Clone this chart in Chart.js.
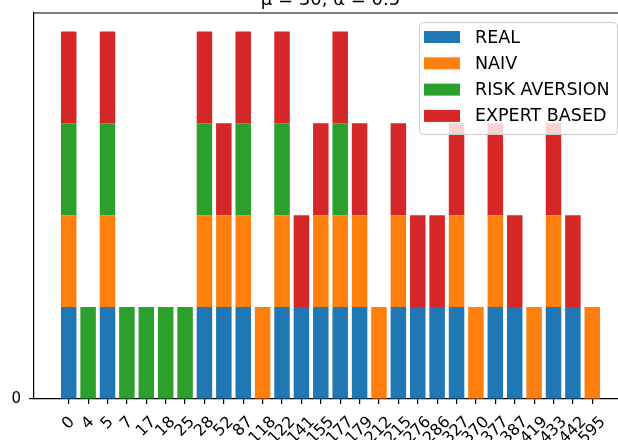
<!DOCTYPE html>
<html>
<head>
<meta charset="utf-8">
<script src="https://cdn.jsdelivr.net/npm/chart.js@4.4.1/dist/chart.umd.min.js"></script>
<style>
  body { margin: 0; background: #fff; }
  #wrap { width: 618px; height: 440px; overflow: hidden; position: relative; }
  canvas { position: absolute; left: 0; top: 0; }
</style>
</head>
<body>
<div id="wrap"><canvas id="myChartBar" width="632" height="440"></canvas></div>
<script>
const categories = ['0', '4', '5', '7', '17', '18', '25', '28', '52', '87', '118', '122', '141', '155',
  '177', '179', '212', '215', '276', '286', '327', '370', '377', '387', '419', '433', '442', '595'];
const real   = [1, 0, 1, 0, 0, 0, 0, 1, 1, 1, 0, 1, 1, 1, 1, 1, 0, 1, 1, 1, 1, 0, 1, 1, 0, 1, 1, 0];
const naiv   = [1, 0, 1, 0, 0, 0, 0, 1, 1, 1, 1, 1, 0, 1, 1, 1, 1, 1, 0, 0, 1, 1, 1, 0, 1, 1, 0, 1];
const risk   = [1, 1, 1, 1, 1, 1, 1, 1, 0, 1, 0, 1, 0, 0, 1, 0, 0, 0, 0, 0, 0, 0, 0, 0, 0, 0, 0, 0];
const expert = [1, 0, 1, 0, 0, 0, 0, 1, 1, 1, 0, 1, 1, 1, 1, 1, 0, 1, 1, 1, 1, 0, 1, 1, 0, 1, 1, 0];
const yTicks = [0];
const title = 'μ = 30, α = 0.5';

const FONT = '"DejaVu Sans", sans-serif';

const toPoints = arr => arr.map((v, i) => ({ x: i, y: v }));

// frame, title, rotated x labels and legend box, drawn matplotlib-style
const mplExtras = {
  id: 'mplExtras',
  afterDraw(chart) {
    const ctx = chart.ctx;
    const area = chart.chartArea;
    const xs = chart.scales.x;
    ctx.save();

    // top + right spine
    ctx.strokeStyle = '#000';
    ctx.lineWidth = 1.2;
    ctx.beginPath();
    ctx.moveTo(area.left, area.top);
    ctx.lineTo(area.right, area.top);
    ctx.lineTo(area.right, area.bottom);
    ctx.stroke();

    // title (mostly cut off by the top edge)
    ctx.fillStyle = '#000';
    ctx.font = '18px ' + FONT;
    ctx.textAlign = 'center';
    ctx.textBaseline = 'alphabetic';
    ctx.fillText(title, (area.left + area.right) / 2, 5);

    // x tick labels, rotated 45deg, centred under tick
    ctx.font = '16px ' + FONT;
    ctx.textBaseline = 'middle';
    categories.forEach((t, i) => {
      const x = xs.getPixelForValue(i);
      const w = ctx.measureText(t).width;
      const h = 16 * 1.17;
      const half = (w + h) * Math.SQRT1_2 / 2;
      ctx.save();
      ctx.translate(x, area.bottom + 14 + half);
      ctx.rotate(-Math.PI / 4);
      ctx.fillText(t, 0, 0);
      ctx.restore();
    });

    // legend
    const bx = 419, by = 22, bw = 198, bh = 112;
    ctx.fillStyle = 'rgba(255,255,255,0.8)';
    ctx.strokeStyle = '#cccccc';
    ctx.lineWidth = 1;
    ctx.beginPath();
    ctx.roundRect(bx + 0.5, by + 0.5, bw, bh, 4);
    ctx.fill();
    ctx.stroke();
    ctx.font = '17.5px ' + FONT;
    ctx.textAlign = 'left';
    ctx.textBaseline = 'middle';
    chart.data.datasets.forEach((ds, i) => {
      const cy = 37 + i * 26.3;
      ctx.fillStyle = ds.backgroundColor;
      ctx.fillRect(424, cy - 6, 36, 12);
      ctx.fillStyle = '#000';
      ctx.fillText(ds.label, 475, cy + 1);
    });
    ctx.restore();
  }
};

const ctxBar = document.getElementById('myChartBar').getContext('2d');

const myChartBar = new Chart(ctxBar, {
  type: 'bar',
  data: {
    datasets: [
      { label: 'REAL', data: toPoints(real), backgroundColor: '#1f77b4' },
      { label: 'NAIV', data: toPoints(naiv), backgroundColor: '#ff7f0e' },
      { label: 'RISK AVERSION', data: toPoints(risk), backgroundColor: '#2ca02c' },
      { label: 'EXPERT BASED', data: toPoints(expert), backgroundColor: '#d62728' }
    ]
  },
  options: {
    responsive: false,
    animation: false,
    barPercentage: 0.8,
    categoryPercentage: 1.0,
    layout: { padding: { top: 13, right: 5, left: 0, bottom: 0 } },
    plugins: {
      legend: { display: false },
      tooltip: { enabled: false },
      title: { display: false }
    },
    scales: {
      x: {
        type: 'linear',
        stacked: true,
        offset: false,
        min: -1.79,
        max: 28.79,
        afterBuildTicks: scale => { scale.ticks = categories.map((c, i) => ({ value: i })); },
        afterFit: scale => { scale.height = 41; scale.paddingLeft = 0; scale.paddingRight = 0; },
        ticks: { display: false },
        grid: { display: true, offset: false, drawOnChartArea: false, drawTicks: true, tickLength: 5, color: '#000', lineWidth: 1.2 },
        border: { display: true, color: '#000', width: 1.2 }
      },
      y: {
        stacked: true,
        min: 0,
        max: 4.2,
        afterBuildTicks: scale => { scale.ticks = yTicks.map(v => ({ value: v })); },
        afterFit: scale => { scale.width = 34; scale.paddingTop = 0; scale.paddingBottom = 0; },
        ticks: { color: '#000', font: { family: FONT, size: 15 }, padding: 8 },
        grid: { display: true, drawOnChartArea: false, drawTicks: true, tickLength: 5, color: '#000', lineWidth: 1.2 },
        border: { display: true, color: '#000', width: 1.2 }
      }
    }
  },
  plugins: [mplExtras]
});
</script>
</body>
</html>
